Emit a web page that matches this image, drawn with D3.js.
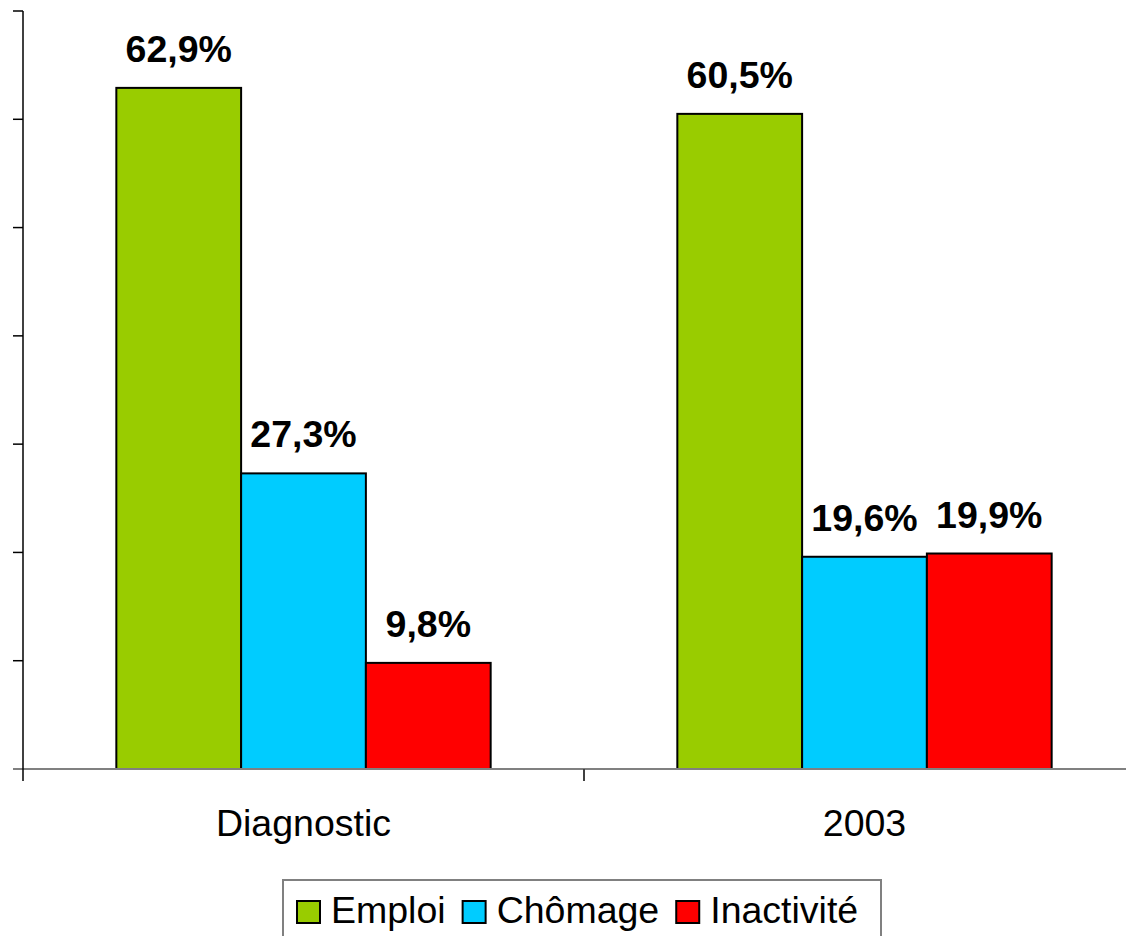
<!DOCTYPE html>
<html>
<head>
<meta charset="utf-8">
<style>
  body { margin: 0; background: #fff; }
  text { font-family: "Liberation Sans", Arial, sans-serif; }
</style>
</head>
<body>
<svg width="1126" height="936"></svg>
<script src="https://d3js.org/d3.v7.min.js"></script>
<script>

// Data
var categories = ["Diagnostic", "2003"];
var seriesNames = ["Emploi", "Chômage", "Inactivité"];
var emploi = [62.9, 60.5];
var chomage = [27.3, 19.6];
var inactivite = [9.8, 19.9];
var yTicks = [0, 10, 20, 30, 40, 50, 60, 70];
var colors = ["#99cc00", "#00ccff", "#ff0000"];

var seriesValues = [emploi, chomage, inactivite];
var data = categories.map(function(c, i) {
  return {cat: c, values: seriesNames.map(function(s, j) {
    return {name: s, value: seriesValues[j][i], color: colors[j]};
  })};
});

var svg = d3.select("svg");

// Plot area: x from 23 to 1145 (right edge clipped), baseline at 769
var x0 = d3.scaleBand()
    .domain(categories)
    .range([23, 1145]);

var x1 = d3.scaleBand()
    .domain(seriesNames)
    .range([0, x0.bandwidth()])
    .paddingOuter(0.748);

var y = d3.scaleLinear()
    .domain([0, 70])
    .range([769, 11]);

// Bars
var groups = svg.append("g").selectAll("g")
  .data(data)
  .enter().append("g")
    .attr("transform", function(d) { return "translate(" + x0(d.cat) + ",0)"; });

groups.selectAll("rect")
  .data(function(d) { return d.values; })
  .enter().append("rect")
    .attr("x", function(d) { return x1(d.name); })
    .attr("y", function(d) { return y(d.value); })
    .attr("width", x1.bandwidth())
    .attr("height", function(d) { return y(0) - y(d.value); })
    .attr("fill", function(d) { return d.color; })
    .attr("stroke", "#000")
    .attr("stroke-width", 2);

// Value labels
groups.selectAll("text")
  .data(function(d) { return d.values; })
  .enter().append("text")
    .attr("x", function(d) { return x1(d.name) + x1.bandwidth() / 2; })
    .attr("y", function(d) { return y(d.value) - 26; })
    .attr("text-anchor", "middle")
    .attr("font-size", 37.5)
    .attr("font-weight", "bold")
    .text(function(d) { return d3.format(".1f")(d.value).replace(".", ",") + "%"; });

// X axis baseline (gray)
svg.append("line")
    .attr("x1", 13).attr("x2", 1126)
    .attr("y1", y(0)).attr("y2", y(0))
    .attr("stroke", "#808080")
    .attr("stroke-width", 2);

// X axis tick between the categories
svg.append("line")
    .attr("x1", x0("2003")).attr("x2", x0("2003"))
    .attr("y1", y(0)).attr("y2", y(0) + 12)
    .attr("stroke", "#404040")
    .attr("stroke-width", 2);

// Y axis
svg.append("line")
    .attr("x1", 23).attr("x2", 23)
    .attr("y1", y(70)).attr("y2", y(0) + 12)
    .attr("stroke", "#000")
    .attr("stroke-width", 1.5);

svg.append("g").selectAll("line")
  .data(yTicks.slice(1))
  .enter().append("line")
    .attr("x1", 13).attr("x2", 23)
    .attr("y1", function(d) { return y(d); })
    .attr("y2", function(d) { return y(d); })
    .attr("stroke", "#000")
    .attr("stroke-width", 1.5);

// Category labels
svg.append("g").selectAll("text")
  .data(categories)
  .enter().append("text")
    .attr("x", function(d) { return x0(d) + x0.bandwidth() / 2; })
    .attr("y", 836)
    .attr("text-anchor", "middle")
    .attr("font-size", 37.5)
    .text(function(d) { return d; });

// Legend
var legend = svg.append("g");
legend.append("rect")
    .attr("x", 283).attr("y", 880)
    .attr("width", 598).attr("height", 70)
    .attr("fill", "#fff")
    .attr("stroke", "#808080")
    .attr("stroke-width", 2);

var lx = 297;
seriesNames.forEach(function(s, i) {
  legend.append("rect")
      .attr("x", lx).attr("y", 901)
      .attr("width", 23).attr("height", 22)
      .attr("fill", colors[i])
      .attr("stroke", "#000")
      .attr("stroke-width", 2);
  var t = legend.append("text")
      .attr("x", lx + 34)
      .attr("y", 923)
      .attr("font-size", 37.5)
      .text(s);
  lx = lx + 34 + t.node().getComputedTextLength() + 17;
});

</script>
</body>
</html>
